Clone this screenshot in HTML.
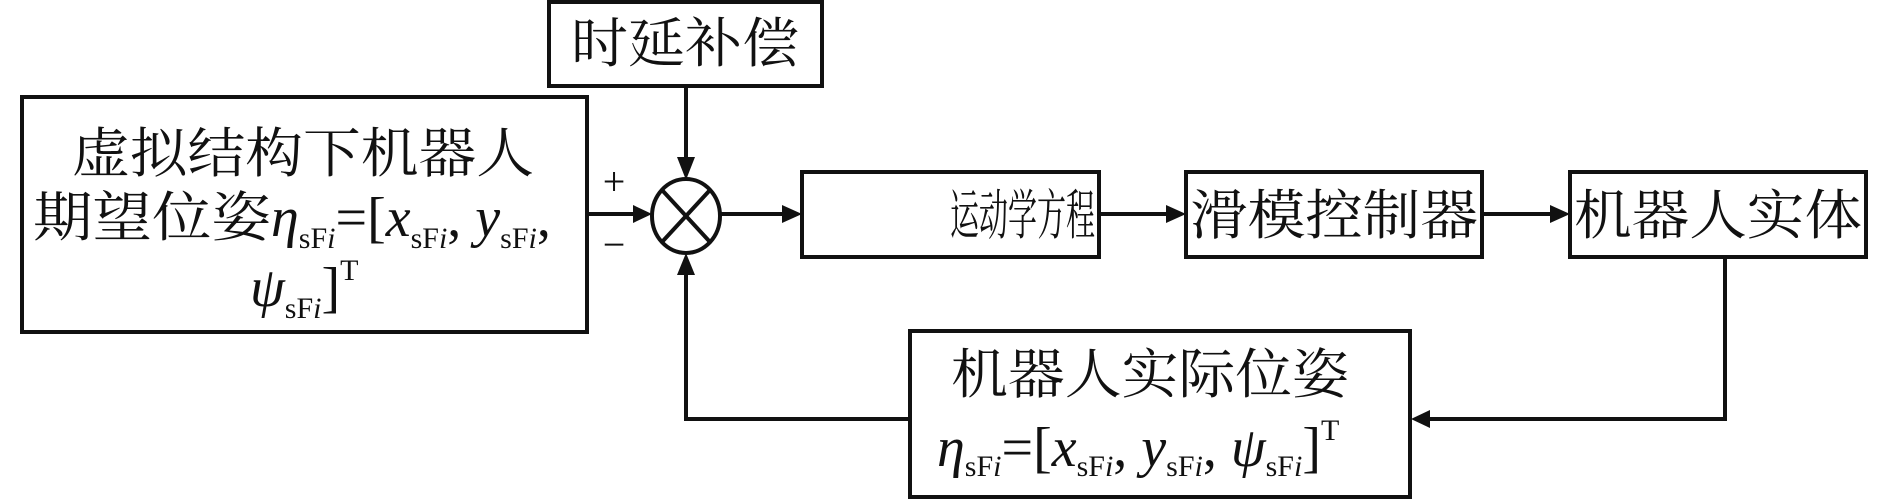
<!DOCTYPE html>
<html><head><meta charset="utf-8"><style>
html,body{margin:0;padding:0;background:#fff;}
svg{display:block;}
.cn{font-family:"Liberation Serif","Noto Serif CJK SC",serif;font-size:54px;fill:#111;}
.m{font-family:"Liberation Serif",serif;font-size:56px;fill:#111;}
.s{font-size:30px;font-style:normal;}
.i{font-style:italic;}
</style></head><body>
<svg width="1890" height="500" viewBox="0 0 1890 500" xmlns="http://www.w3.org/2000/svg">
<defs>
<marker id="ah" markerWidth="10" markerHeight="10" refX="9" refY="5" orient="auto" markerUnits="userSpaceOnUse" viewBox="0 0 10 10">
</marker>
</defs>
<g fill="none" stroke="#111" stroke-width="4">
<rect x="549" y="2" width="273" height="84"/>
<rect x="22" y="97" width="565" height="235"/>
<rect x="802" y="172" width="297" height="85"/>
<rect x="1186" y="172" width="296" height="85"/>
<rect x="1570" y="172" width="296" height="85"/>
<rect x="910" y="331" width="500" height="166"/>
<ellipse cx="686" cy="216" rx="34" ry="37"/>
<line x1="662" y1="190" x2="710" y2="242"/>
<line x1="710" y1="190" x2="662" y2="242"/>
<!-- connectors -->
<line x1="686" y1="86" x2="686" y2="160"/>
<line x1="587" y1="214" x2="635" y2="214"/>
<line x1="720" y1="214" x2="784" y2="214"/>
<line x1="1099" y1="214" x2="1168" y2="214"/>
<line x1="1482" y1="214" x2="1552" y2="214"/>
<polyline points="1725,257 1725,419 1428,419"/>
<polyline points="910,419 686,419 686,272"/>
</g>
<g fill="#111">
<polygon points="677,157 695,157 686,180"/>
<polygon points="633,205 633,223 652,214"/>
<polygon points="782,205 782,223 802,214"/>
<polygon points="1166,205 1166,223 1186,214"/>
<polygon points="1550,205 1550,223 1570,214"/>
<polygon points="1430,410 1430,428 1411,419"/>
<polygon points="677,275 695,275 686,253"/>
</g>
<text class="cn" x="685" y="62" text-anchor="middle" textLength="228" lengthAdjust="spacingAndGlyphs">时延补偿</text>
<text class="cn" x="303" y="172" text-anchor="middle" textLength="462" lengthAdjust="spacingAndGlyphs">虚拟结构下机器人</text>
<text class="m" x="33" y="236"><tspan class="cn" textLength="238" lengthAdjust="spacingAndGlyphs">期望位姿</tspan><tspan class="i">η</tspan><tspan class="s" dy="12">sF</tspan><tspan class="s i">i</tspan><tspan dy="-12">=[</tspan><tspan class="i">x</tspan><tspan class="s" dy="12">sF</tspan><tspan class="s i">i</tspan><tspan dy="-12">, </tspan><tspan class="i">y</tspan><tspan class="s" dy="12">sF</tspan><tspan class="s i">i</tspan><tspan dy="-12">,</tspan></text>
<text class="m" x="250" y="306"><tspan class="i">ψ</tspan><tspan class="s" dy="12">sF</tspan><tspan class="s i">i</tspan><tspan dy="-12">]</tspan><tspan class="s" dy="-26">T</tspan></text>
<text class="cn" x="950" y="234" textLength="145" lengthAdjust="spacingAndGlyphs" x="805">运动学方程</text>
<text class="cn" x="1334" y="234" text-anchor="middle" textLength="288" lengthAdjust="spacingAndGlyphs">滑模控制器</text>
<text class="cn" x="1718" y="234" text-anchor="middle" textLength="288" lengthAdjust="spacingAndGlyphs">机器人实体</text>
<text class="cn" x="1150" y="393" text-anchor="middle" textLength="398" lengthAdjust="spacingAndGlyphs">机器人实际位姿</text>
<text class="m" x="937" y="466"><tspan class="i">η</tspan><tspan class="s" dy="10">sF</tspan><tspan class="s i">i</tspan><tspan dy="-10">=[</tspan><tspan class="i">x</tspan><tspan class="s" dy="10">sF</tspan><tspan class="s i">i</tspan><tspan dy="-10">, </tspan><tspan class="i">y</tspan><tspan class="s" dy="10">sF</tspan><tspan class="s i">i</tspan><tspan dy="-10">, </tspan><tspan class="i">ψ</tspan><tspan class="s" dy="10">sF</tspan><tspan class="s i">i</tspan><tspan dy="-10">]</tspan><tspan class="s" dy="-26">T</tspan></text>
<text class="m" x="614" y="195" text-anchor="middle" style="font-size:40px">+</text>
<text class="m" x="614" y="258" text-anchor="middle" style="font-size:40px">−</text>
</svg>
</body></html>
